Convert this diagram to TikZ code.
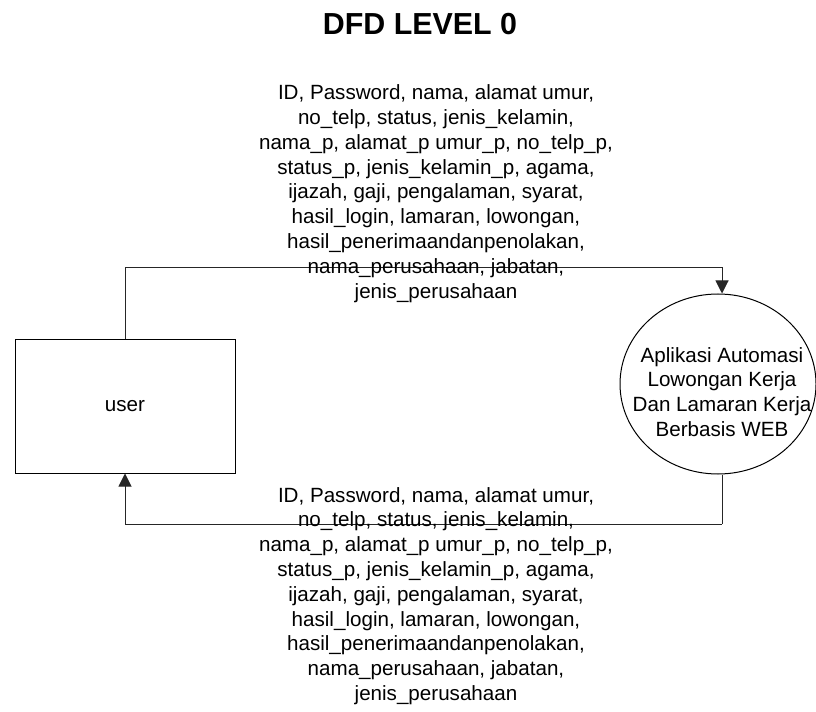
\documentclass[tikz,border=0pt]{standalone}
\usepackage{fontspec}
\setmainfont{Liberation Sans}
\usetikzlibrary{shapes.geometric,arrows.meta}
\tikzset{
  lbl/.style={font=\fontsize{15.45}{18.6}\selectfont, align=center, inner sep=0pt},
  entity/.style={draw=black, line width=0.75pt, minimum width=165pt, minimum height=99.75pt, inner sep=0pt, font=\fontsize{15.45}{18.6}\selectfont},
  proc/.style={draw=black, line width=0.75pt, ellipse, minimum width=147pt, minimum height=135pt, inner sep=0pt},
  flow/.style={draw=black!85, line width=0.75pt, -{Triangle[length=9.75pt,width=9.75pt]}},
  ttl/.style={font=\fontsize{22.8}{26}\selectfont\bfseries, inner sep=0pt}
}
\begin{document}
\begin{tikzpicture}[x=0.75pt,y=-0.75pt]
\useasboundingbox (0,0) rectangle (816,712);
\node[ttl] (title) at (420,24) {DFD LEVEL 0};
\node[entity] (user) at (125,406.5) {user};
\node[proc] (app) at (718,384) {};
\node[lbl] (applabel) at (722,392) {Aplikasi Automasi\\Lowongan Kerja\\Dan Lamaran Kerja\\Berbasis WEB};
\coordinate (tc) at (722,268);
\coordinate (bc) at (125,524);
\draw[flow] (user.north) |- (tc) -- (tc |- app.north);
\draw[flow] (bc -| tc) |- (bc) -- (user.south);
\draw[draw=black!85, line width=0.75pt] (tc |- app.south) -- (bc -| tc);
\node[lbl] (toplabel) at (436,193.5) {ID, Password, nama, alamat umur,\\no\_telp, status, jenis\_kelamin,\\nama\_p, alamat\_p umur\_p, no\_telp\_p,\\status\_p, jenis\_kelamin\_p, agama,\\ijazah, gaji, pengalaman, syarat,\\hasil\_login, lamaran, lowongan,\\hasil\_penerimaandanpenolakan,\\nama\_perusahaan, jabatan,\\jenis\_perusahaan};
\node[lbl] (botlabel) at (436,596) {ID, Password, nama, alamat umur,\\no\_telp, status, jenis\_kelamin,\\nama\_p, alamat\_p umur\_p, no\_telp\_p,\\status\_p, jenis\_kelamin\_p, agama,\\ijazah, gaji, pengalaman, syarat,\\hasil\_login, lamaran, lowongan,\\hasil\_penerimaandanpenolakan,\\nama\_perusahaan, jabatan,\\jenis\_perusahaan};
\end{tikzpicture}
\end{document}
